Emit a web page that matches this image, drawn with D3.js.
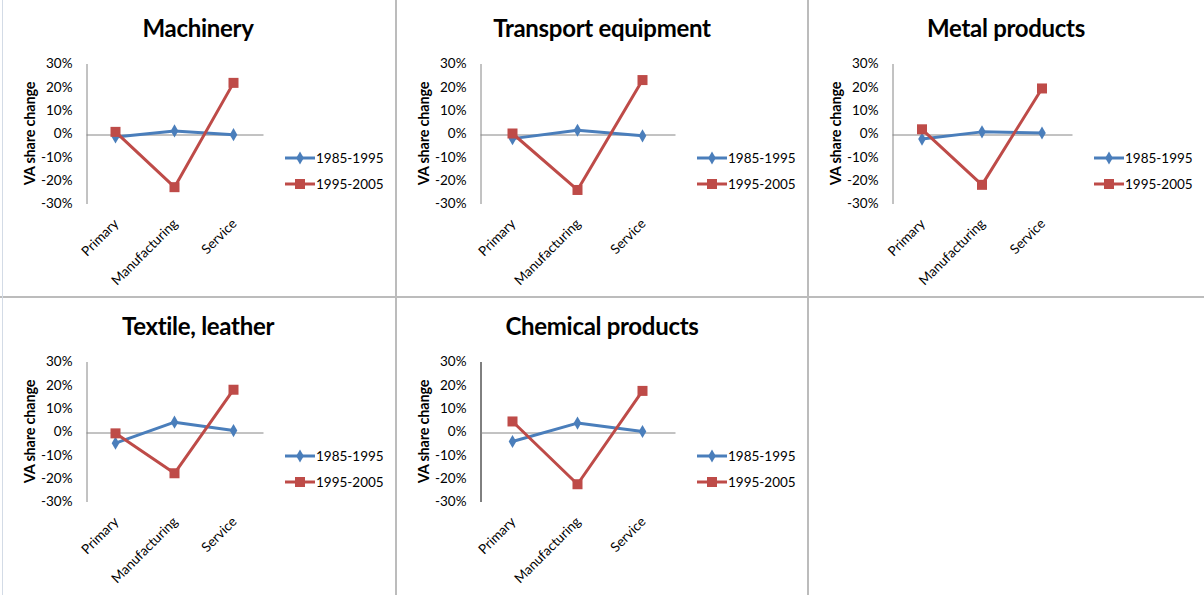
<!DOCTYPE html>
<html>
<head>
<meta charset="utf-8">
<script src="https://cdn.jsdelivr.net/npm/d3@7"></script>
<style>
  html, body { margin: 0; padding: 0; background: #fff; }
  svg { display: block; }
  text { font-family: Lato, "Liberation Sans", sans-serif; fill: #000; }
</style>
</head>
<body>
<svg id="chart" width="1204" height="595"></svg>
<script>
// Sectors, categories and the two periods of value-added share change (in %)
const sectors = ["Machinery", "Transport equipment", "Metal products", "Textile, leather", "Chemical products"];
const categories = ["Primary", "Manufacturing", "Service"];
const periods = ["1985-1995", "1995-2005"];
const change1985to1995 = [
  [-1.5, 1.1, -0.5],
  [-2.2, 1.4, -1.0],
  [-2.4, 0.7, 0.2],
  [-5.0, 4.0, 0.4],
  [-4.3, 3.6, 0.0]
];
const change1995to2005 = [
  [0.7, -23.0, 21.7],
  [0.0, -24.2, 22.9],
  [1.8, -22.0, 19.3],
  [-0.8, -17.9, 17.9],
  [4.3, -22.6, 17.4]
];
const yTicks = [-30, -20, -10, 0, 10, 20, 30];
const yLabel = "VA share change";

// Panel frames: left/top corner, y-axis position and plot right edge
const frames = [
  { x0: 0,   y0: 0,   axisX: 86,  right: 263, w: 396, axisColor: "#868686" },
  { x0: 396, y0: 0,   axisX: 480, right: 675, w: 412, axisColor: "#868686" },
  { x0: 808, y0: 0,   axisX: 892, right: 1072, w: 396, axisColor: "#868686" },
  { x0: 0,   y0: 298, axisX: 86,  right: 263, w: 396, axisColor: "#868686" },
  { x0: 396, y0: 298, axisX: 480, right: 675, w: 412, axisColor: "#000000" }
];
const colors = ["#4a7ebb", "#be4b48"];

const svg = d3.select("#chart");

// Panel separators
const sep = svg.append("g").attr("stroke", "#bcbcbc").attr("stroke-width", 2);
sep.append("line").attr("x1", 396).attr("x2", 396).attr("y1", 0).attr("y2", 595);
sep.append("line").attr("x1", 808).attr("x2", 808).attr("y1", 0).attr("y2", 595);
sep.append("line").attr("x1", 0).attr("x2", 1204).attr("y1", 297).attr("y2", 297);
svg.append("line").attr("x1", 2.5).attr("x2", 2.5).attr("y1", 0).attr("y2", 595)
  .attr("stroke", "#d3dbe6").attr("stroke-width", 1);

const diamond = d3.symbol().type(d3.symbolDiamond).size(50);

sectors.forEach((name, i) => {
  const f = frames[i];
  const g = svg.append("g").attr("transform", `translate(${f.x0},${f.y0})`);
  const ax = f.axisX - f.x0, rx = f.right - f.x0;

  const x = d3.scaleBand().domain(categories).range([ax, rx]);
  const y = d3.scaleLinear().domain([-30, 30]).range([203.5, 63.5]);

  // Title
  g.append("text")
    .attr("x", f.w / 2).attr("y", 37)
    .attr("text-anchor", "middle")
    .attr("font-size", 24).attr("font-weight", "bold")
    .attr("letter-spacing", -0.3)
    .text(name);

  // Y axis with percentage labels
  const yAxis = g.append("g").attr("transform", `translate(${ax + 0.5},0)`)
    .call(d3.axisLeft(y).tickValues(yTicks).tickSize(0).tickPadding(14)
      .tickFormat(d => d + "%"));
  yAxis.select(".domain").attr("stroke", f.axisColor);
  yAxis.selectAll("text").attr("font-size", 13.5).attr("font-family", "Lato, sans-serif").attr("fill", "#000");

  // Zero line with rotated category labels
  const xAxis = g.append("g").attr("transform", `translate(0,${Math.round(y(0)) + 0.5})`)
    .call(d3.axisBottom(x).tickSize(0).tickPadding(0));
  xAxis.select(".domain").attr("stroke", "#868686");
  xAxis.selectAll("text")
    .attr("font-size", 13.5).attr("font-family", "Lato, sans-serif").attr("fill", "#000")
    .attr("text-anchor", "end")
    .attr("dy", 0)
    .attr("transform", d => `translate(4,${224 - Math.round(y(0))}) rotate(-45)`);

  // Y axis title
  g.append("text")
    .attr("transform", `translate(${ax - 51},${y(0)}) rotate(-90)`)
    .attr("text-anchor", "middle")
    .attr("font-size", 14.5).attr("font-weight", "bold")
    .attr("letter-spacing", -0.2)
    .text(yLabel);

  const seriesData = [change1985to1995[i], change1995to2005[i]];
  const line = d3.line()
    .x((d, k) => x(categories[k]) + x.bandwidth() / 2)
    .y(d => y(d));

  seriesData.forEach((vals, s) => {
    g.append("path").datum(vals)
      .attr("d", line)
      .attr("fill", "none")
      .attr("stroke", colors[s])
      .attr("stroke-width", 3)
      .attr("stroke-linejoin", "round");
    const m = g.append("g");
    vals.forEach((v, k) => {
      const cx = x(categories[k]) + x.bandwidth() / 2, cy = y(v);
      if (s === 0) {
        m.append("path").attr("d", diamond)
          .attr("transform", `translate(${cx},${cy})`)
          .attr("fill", colors[s]);
      } else {
        m.append("rect")
          .attr("x", cx - 5).attr("y", cy - 5)
          .attr("width", 10).attr("height", 10)
          .attr("fill", colors[s]);
      }
    });
  });

  // Legend
  const lx = rx + 22;
  periods.forEach((p, s) => {
    const ly = 158 + s * 26;
    const lg = g.append("g");
    lg.append("line").attr("x1", lx).attr("x2", lx + 30).attr("y1", ly).attr("y2", ly)
      .attr("stroke", colors[s]).attr("stroke-width", 3);
    if (s === 0) {
      lg.append("path").attr("d", diamond).attr("transform", `translate(${lx + 15},${ly})`).attr("fill", colors[s]);
    } else {
      lg.append("rect").attr("x", lx + 10).attr("y", ly - 5).attr("width", 10).attr("height", 10).attr("fill", colors[s]);
    }
    lg.append("text").attr("x", lx + 31).attr("y", ly + 4.5)
      .attr("font-size", 13.5).text(p);
  });
});
</script>
</body>
</html>
